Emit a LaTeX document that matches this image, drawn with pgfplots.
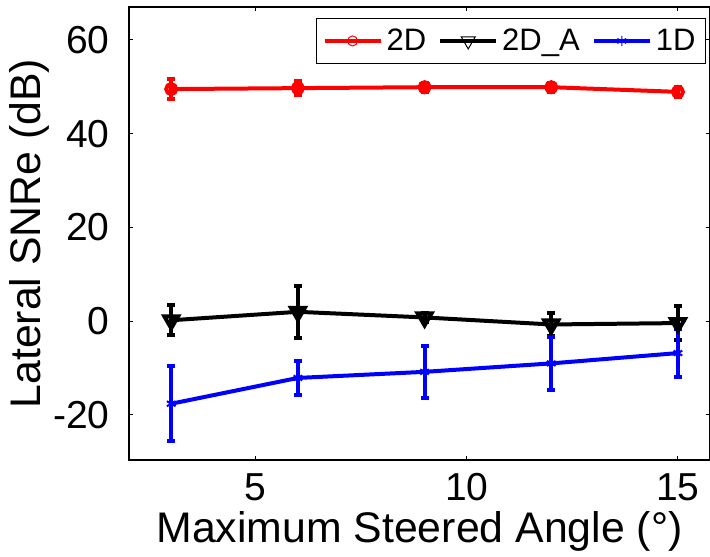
\documentclass[border=0pt]{standalone}
\usepackage{pgfplots}
\pgfplotsset{compat=1.18}
\usepackage{fontspec}
\setmainfont{Liberation Sans}
\pgfplotstableread{
x y e
3 49.5 2.2
6 49.7 1.5
9 49.9 1.0
12 49.9 1.0
15 48.9 1.0
}\tabTwoD
\pgfplotstableread{
x y e
3 0.2 3.2
6 2.0 5.5
9 0.8 1.0
12 -0.7 2.4
15 -0.4 3.7
}\tabTwoDA
\pgfplotstableread{
x y e
3 -17.6 8.0
6 -12.1 3.7
9 -10.8 5.6
12 -9.0 5.7
15 -6.8 5.2
}\tabOneD
\begin{document}
\begin{tikzpicture}
\begin{axis}[
  at={(0pt,0pt)}, anchor=south west,
  scale only axis, width=290.5pt, height=226.5pt,
  xmin=2, xmax=15.76, ymin=-29.6, ymax=67,
  xtick={5,10,15}, ytick={-20,0,20,40,60},
  tick align=inside, major tick length=2pt,
  axis line style={line width=0.6pt},
  tick style={line width=0.5pt, black},
  /pgf/number format/assume math mode=true,
  ticklabel style={font=\fontsize{19.5}{21}\selectfont, inner sep=0pt},
  xticklabel style={anchor=center, yshift=-13.75pt},
  yticklabel style={anchor=east, xshift=-9.5pt},
  xlabel={Maximum Steered Angle (°)},
  ylabel={Lateral SNRe (dB)},
  label style={font=\fontsize{21.4}{23}\selectfont},
  xlabel style={at={(axis description cs:0.5,-0.157)}, anchor=center},
  ylabel style={at={(axis description cs:-0.172,0.5)}, anchor=center},
  legend columns=3,
  legend style={at={(axis description cs:0.9931,0.9757)}, anchor=north east,
    font=\fontsize{15.5}{16}\selectfont, draw=black, line width=0.6pt,
    inner xsep=3pt, inner ysep=3pt,
    /tikz/every even column/.append style={column sep=4pt}},
  legend image code/.code={\draw[mark repeat=2,mark phase=2,
    every mark/.append style={line width=0.5pt}] plot coordinates {(0pt,0pt) (14pt,0pt) (28pt,0pt)};},
  error bars/y dir=both, error bars/y explicit,
  error bars/error mark options={rotate=90, mark size=2pt, line width=2pt},
  error bars/error bar style={line width=2pt},
]
\addplot[color=red, line width=2pt, mark=o, mark size=2.5pt]
  table[x=x, y=y, y error=e] {\tabTwoD};
\addlegendentry{2D}
\addplot[color=black, line width=2pt, mark=triangle, mark size=4pt, mark options={rotate=180}]
  table[x=x, y=y, y error=e] {\tabTwoDA};
\addlegendentry{2D\_A}
\addplot[color=blue, line width=2pt, mark=asterisk, mark size=2.5pt, mark options={line width=1pt}]
  table[x=x, y=y, y error=e] {\tabOneD};
\addlegendentry{1D}
\end{axis}
\pgfresetboundingbox
\path (-64.5pt,-48pt) rectangle (290.5pt,230pt);
\end{tikzpicture}
\end{document}
